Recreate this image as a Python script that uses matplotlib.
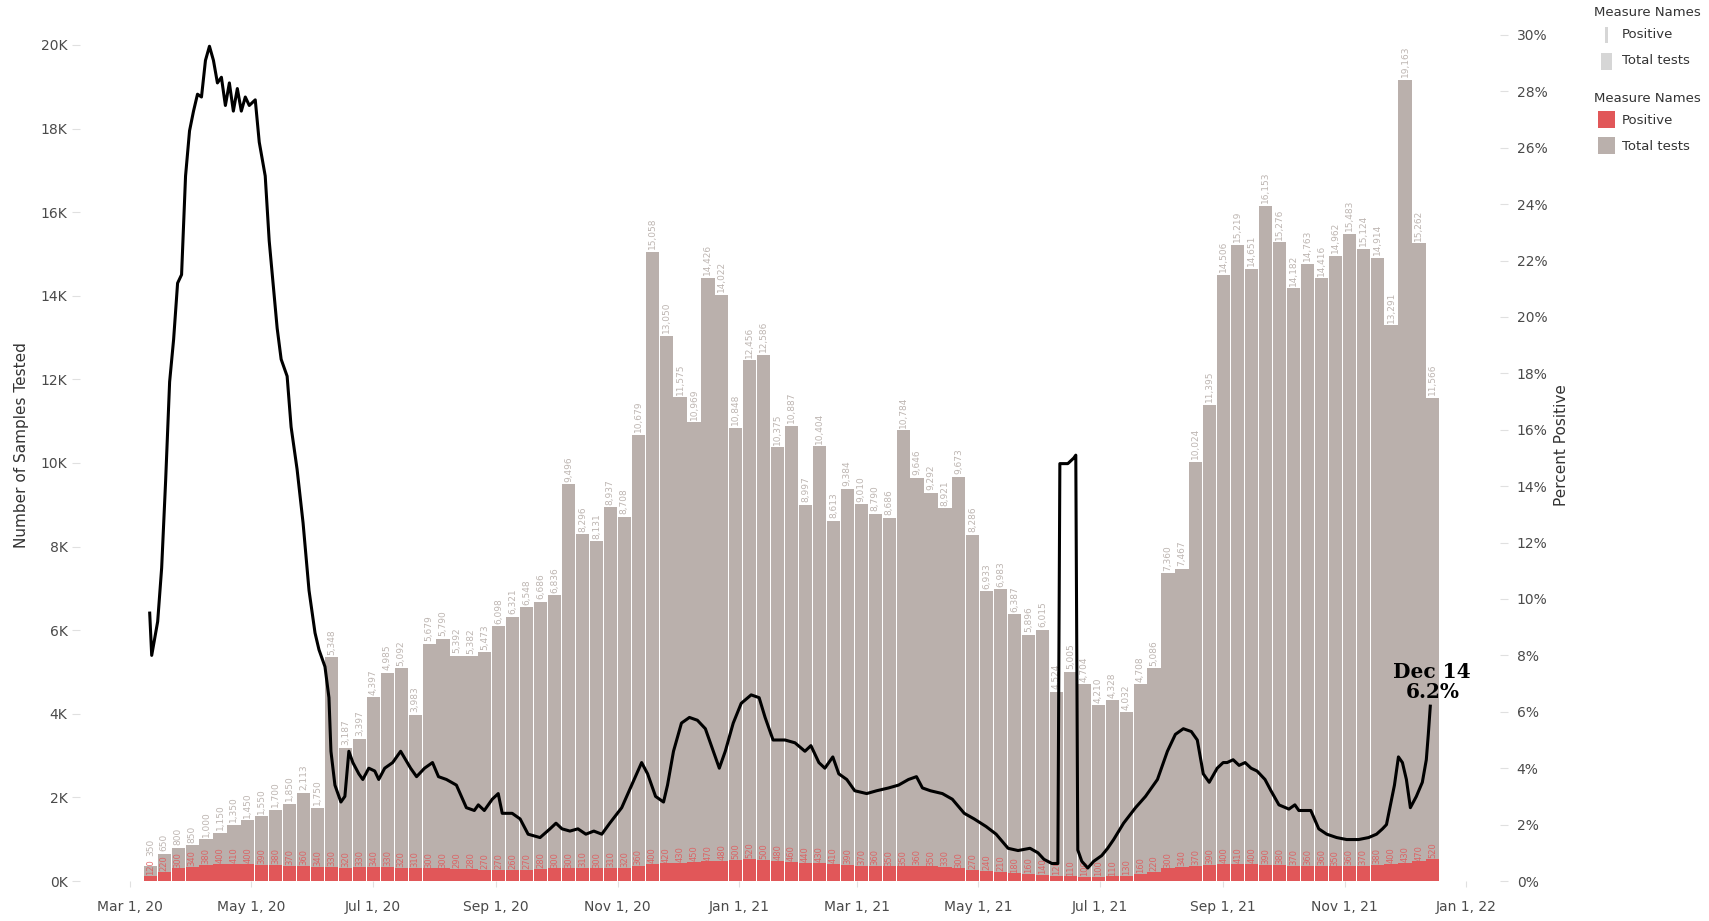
import matplotlib
matplotlib.use('Agg')
import matplotlib.pyplot as plt
import matplotlib.dates as mdates
import pandas as pd
from matplotlib.patches import Rectangle

# ---------------- data ----------------
week_start = pd.date_range('2020-03-08', periods=93, freq='7D')

total_tests = [350, 650, 800, 850, 1000, 1150, 1350, 1450, 1550, 1700, 1850, 2113, 1750,
               5348, 3187, 3397, 4397, 4985, 5092, 3983, 5679, 5790, 5392, 5382, 5473, 6098,
               6321, 6548, 6686, 6836, 9496, 8296, 8131, 8937, 8708, 10679,
               15058, 13050, 11575, 10969, 14426, 14022, 10848, 12456, 12586,
               10375, 10887, 8997, 10404, 8613, 9384, 9010, 8790, 8686, 10784, 9646, 9292,
               8921, 9673, 8286, 6933, 6983, 6387, 5896, 6015, 4524, 5005, 4704, 4210, 4328,
               4032, 4708, 5086, 7360, 7467, 10024, 11395, 14506, 15219, 14651, 16153, 15276,
               14182, 14763, 14416, 14962, 15483, 15124, 14914, 13291, 19163, 15262, 11566]

positives = [120, 220, 300, 340, 380, 400, 410, 400, 390, 380, 370, 360, 340,
             330, 320, 330, 340, 330, 320, 310, 300, 300, 290, 280, 270, 270, 260, 270,
             280, 300, 300, 310, 300, 310, 320,
             360, 400, 420, 430, 450, 470, 480, 500, 520, 500, 480, 460, 440, 430, 410, 390,
             370, 360, 350, 350, 360, 350, 330, 300, 270, 240, 210, 180, 160,
             140, 120, 110, 100, 100, 110, 130, 160, 220,
             300, 340, 370, 390, 400, 410, 400, 390, 380, 370, 360, 360, 350, 360, 370, 380,
             400, 430, 470, 520]

pct_dates = ['2020-03-11', '2020-03-12', '2020-03-13', '2020-03-15', '2020-03-17', '2020-03-19',
             '2020-03-21', '2020-03-23', '2020-03-25', '2020-03-27', '2020-03-29', '2020-03-31',
             '2020-04-02', '2020-04-04', '2020-04-06', '2020-04-08', '2020-04-10', '2020-04-12',
             '2020-04-14', '2020-04-16', '2020-04-18', '2020-04-20', '2020-04-22', '2020-04-24',
             '2020-04-26', '2020-04-28', '2020-04-30', '2020-05-03', '2020-05-05', '2020-05-08',
             '2020-05-10', '2020-05-14', '2020-05-16', '2020-05-19', '2020-05-21', '2020-05-24',
             '2020-05-27', '2020-05-30', '2020-06-02', '2020-06-04', '2020-06-07', '2020-06-09',
             '2020-06-10', '2020-06-12', '2020-06-15', '2020-06-17', '2020-06-19', '2020-06-21',
             '2020-06-24', '2020-06-26', '2020-06-29', '2020-07-02', '2020-07-04', '2020-07-07',
             '2020-07-11', '2020-07-15', '2020-07-20', '2020-07-23', '2020-07-27', '2020-07-31',
             '2020-08-03', '2020-08-07', '2020-08-12', '2020-08-17', '2020-08-21', '2020-08-23',
             '2020-08-26', '2020-08-30', '2020-09-02', '2020-09-04', '2020-09-09', '2020-09-13',
             '2020-09-17', '2020-09-23', '2020-09-28', '2020-10-01', '2020-10-04', '2020-10-08',
             '2020-10-12', '2020-10-16', '2020-10-20', '2020-10-24', '2020-10-28', '2020-11-03',
             '2020-11-08', '2020-11-13', '2020-11-16', '2020-11-20', '2020-11-24', '2020-11-26',
             '2020-11-29', '2020-12-03', '2020-12-07', '2020-12-11', '2020-12-15', '2020-12-19',
             '2020-12-22', '2020-12-25', '2020-12-29', '2021-01-02', '2021-01-07', '2021-01-11',
             '2021-01-14', '2021-01-18', '2021-01-24', '2021-01-29', '2021-02-03', '2021-02-06',
             '2021-02-10', '2021-02-13', '2021-02-17', '2021-02-20', '2021-02-24', '2021-02-28',
             '2021-03-06', '2021-03-11', '2021-03-17', '2021-03-22', '2021-03-27', '2021-03-31',
             '2021-04-03', '2021-04-07', '2021-04-13', '2021-04-18', '2021-04-24', '2021-04-29',
             '2021-05-05', '2021-05-10', '2021-05-16', '2021-05-21', '2021-05-27', '2021-05-31',
             '2021-06-03', '2021-06-07', '2021-06-10', '2021-06-11', '2021-06-15', '2021-06-18',
             '2021-06-19', '2021-06-20', '2021-06-22', '2021-06-25', '2021-06-28', '2021-07-02',
             '2021-07-05', '2021-07-08', '2021-07-13', '2021-07-19', '2021-07-24', '2021-07-30',
             '2021-08-04', '2021-08-08', '2021-08-12', '2021-08-16', '2021-08-19', '2021-08-22',
             '2021-08-25', '2021-08-29', '2021-09-01', '2021-09-03', '2021-09-06', '2021-09-09',
             '2021-09-12', '2021-09-15', '2021-09-18', '2021-09-22', '2021-09-25', '2021-09-29',
             '2021-10-04', '2021-10-07', '2021-10-09', '2021-10-15', '2021-10-19', '2021-10-23',
             '2021-10-28', '2021-11-02', '2021-11-08', '2021-11-13', '2021-11-17', '2021-11-20',
             '2021-11-22', '2021-11-26', '2021-11-28', '2021-11-30', '2021-12-02', '2021-12-04',
             '2021-12-07', '2021-12-10', '2021-12-12', '2021-12-13', '2021-12-14']

pct_values = [9.5, 8.0, 8.4, 9.2, 11.1, 14.2,
              17.7, 19.2, 21.2, 21.5, 25.0, 26.6,
              27.3, 27.9, 27.8, 29.1, 29.6, 29.1,
              28.3, 28.5, 27.5, 28.3, 27.3, 28.1,
              27.3, 27.8, 27.5, 27.7, 26.2, 25.0,
              22.7, 19.6, 18.5, 17.9, 16.1, 14.6,
              12.7, 10.3, 8.8, 8.2, 7.6, 6.5,
              4.6, 3.4, 2.8, 3.0, 4.6, 4.2,
              3.8, 3.6, 4.0, 3.9, 3.6, 4.0,
              4.2, 4.6, 4.0, 3.7, 4.0, 4.2,
              3.7, 3.6, 3.4, 2.6, 2.5, 2.7,
              2.5, 2.9, 3.1, 2.4, 2.4, 2.2,
              1.66, 1.54, 1.85, 2.05, 1.85, 1.77,
              1.85, 1.66, 1.77, 1.66, 2.05, 2.6,
              3.4, 4.2, 3.8, 3.0, 2.8, 3.4,
              4.6, 5.6, 5.8, 5.7, 5.4, 4.6,
              4.0, 4.6, 5.6, 6.3, 6.6, 6.5,
              5.8, 5.0, 5.0, 4.9, 4.6, 4.8,
              4.2, 4.0, 4.4, 3.8, 3.6, 3.2,
              3.1, 3.2, 3.3, 3.4, 3.6, 3.7,
              3.3, 3.2, 3.1, 2.9, 2.4, 2.2,
              1.93, 1.66, 1.16, 1.08, 1.16, 1.0,
              0.77, 0.62, 0.62, 14.8, 14.8, 15.0,
              15.1, 1.1, 0.7, 0.46, 0.7, 0.9,
              1.16, 1.47, 2.05, 2.6, 3.0, 3.6,
              4.6, 5.2, 5.4, 5.3, 5.0, 3.8,
              3.5, 4.0, 4.2, 4.2, 4.3, 4.1,
              4.2, 4.0, 3.9, 3.6, 3.2, 2.7,
              2.55, 2.7, 2.5, 2.5, 1.85, 1.66,
              1.54, 1.47, 1.47, 1.54, 1.66, 1.85,
              2.0, 3.4, 4.4, 4.2, 3.6, 2.6,
              3.0, 3.5, 4.3, 5.2, 6.2]

tick_dates = ['2020-03-01', '2020-05-01', '2020-07-01', '2020-09-01', '2020-11-01', '2021-01-01',
              '2021-03-01', '2021-05-01', '2021-07-01', '2021-09-01', '2021-11-01', '2022-01-01']
tick_labels = ['Mar 1, 20', 'May 1, 20', 'Jul 1, 20', 'Sep 1, 20', 'Nov 1, 20', 'Jan 1, 21',
               'Mar 1, 21', 'May 1, 21', 'Jul 1, 21', 'Sep 1, 21', 'Nov 1, 21', 'Jan 1, 22']
left_ticks = list(range(0, 20001, 2000))
left_tick_labels = [f'{v // 1000}K' for v in left_ticks]
right_ticks = list(range(0, 31, 2))
right_tick_labels = [f'{v}%' for v in right_ticks]

# ---------------- style ----------------
GRAY = '#BAB0AC'
RED = '#E15759'
TXT = '#4a4a4a'
NARROW = ['Liberation Sans Narrow', 'DejaVu Sans']
W, H = 1709, 921

fig = plt.figure(figsize=(W / 100, H / 100), dpi=100)
ax = fig.add_axes([80 / W, 1 - 881 / H, (1500 - 80) / W, (881 - 22) / H])

bar_w = 6.6
ax.bar(week_start, total_tests, width=bar_w, align='edge', color=GRAY, zorder=1, linewidth=0)
ax.bar(week_start, positives, width=bar_w, align='edge', color=RED, zorder=2, linewidth=0)

xs = mdates.date2num(week_start) + bar_w / 2
for x, v, p in zip(xs, total_tests, positives):
    ax.text(x, max(v + 60, p + 480), f'{v:,}', rotation=90, ha='center', va='bottom',
            fontsize=6.5, color='#bdb5b1', zorder=3, family=NARROW)
    ax.text(x, p + 20, f'{p:,}', rotation=90, ha='center', va='bottom',
            fontsize=6, color=RED, alpha=0.85, zorder=3, family=NARROW)

ax.set_ylim(0, 20550)
ax.set_xlim(pd.Timestamp('2020-02-05'), pd.Timestamp('2022-01-18'))
ax.set_xticks(pd.to_datetime(tick_dates))
ax.set_xticklabels(tick_labels, fontsize=10, color=TXT)
ax.set_yticks(left_ticks)
ax.set_yticklabels(left_tick_labels, fontsize=10, color=TXT)
ax.tick_params(axis='y', length=6, color='#e0e0e0', pad=3)
ax.tick_params(axis='x', length=4, color='#e0e0e0', pad=10)
for s in ax.spines.values():
    s.set_visible(False)

ax2 = ax.twinx()
ax2.plot(pd.to_datetime(pct_dates), pct_values, color='black', lw=2.2, zorder=5,
         solid_joinstyle='round')
ax2.set_ylim(0, 30.46)
ax2.set_yticks(right_ticks)
ax2.set_yticklabels(right_tick_labels, fontsize=10, color=TXT)
ax2.tick_params(axis='y', length=6, color='#e0e0e0', pad=6)
for s in ax2.spines.values():
    s.set_visible(False)

ax2.text(pd.Timestamp('2021-12-15'), 6.35, 'Dec 14\n6.2%', ha='center', va='bottom',
         fontsize=14.5, fontweight='bold', family='DejaVu Serif', color='black',
         linespacing=1.0, zorder=6)

# axis titles
fig.text(22 / W, 1 - 445 / H, 'Number of Samples Tested', rotation=90, ha='center', va='center',
         fontsize=11, color='#333333', family=NARROW)
fig.text(1562 / W, 1 - 445 / H, 'Percent Positive', rotation=90, ha='center', va='center',
         fontsize=11, color='#333333', family=NARROW)

# legends
def fx(x):
    return x / W

def fy(y):
    return 1 - y / H

leg_font = dict(fontsize=9.5, color='#333333', va='center', ha='left')
fig.text(fx(1594), fy(13), 'Measure Names', **leg_font)
fig.text(fx(1622), fy(35), 'Positive', **leg_font)
fig.text(fx(1622), fy(61), 'Total tests', **leg_font)
fig.add_artist(Rectangle((fx(1605), fy(43)), 3 / W, 16 / H, transform=fig.transFigure,
                         color='#d6d6d6', lw=0))
fig.add_artist(Rectangle((fx(1601), fy(70)), 11 / W, 17 / H, transform=fig.transFigure,
                         color='#d6d6d6', lw=0))
fig.text(fx(1594), fy(98), 'Measure Names', **leg_font)
fig.text(fx(1622), fy(120), 'Positive', **leg_font)
fig.text(fx(1622), fy(146), 'Total tests', **leg_font)
fig.add_artist(Rectangle((fx(1598), fy(128)), 17 / W, 17 / H, transform=fig.transFigure,
                         color=RED, lw=0))
fig.add_artist(Rectangle((fx(1598), fy(154)), 17 / W, 17 / H, transform=fig.transFigure,
                         color=GRAY, lw=0))

fig.savefig('out.png', dpi=100)
